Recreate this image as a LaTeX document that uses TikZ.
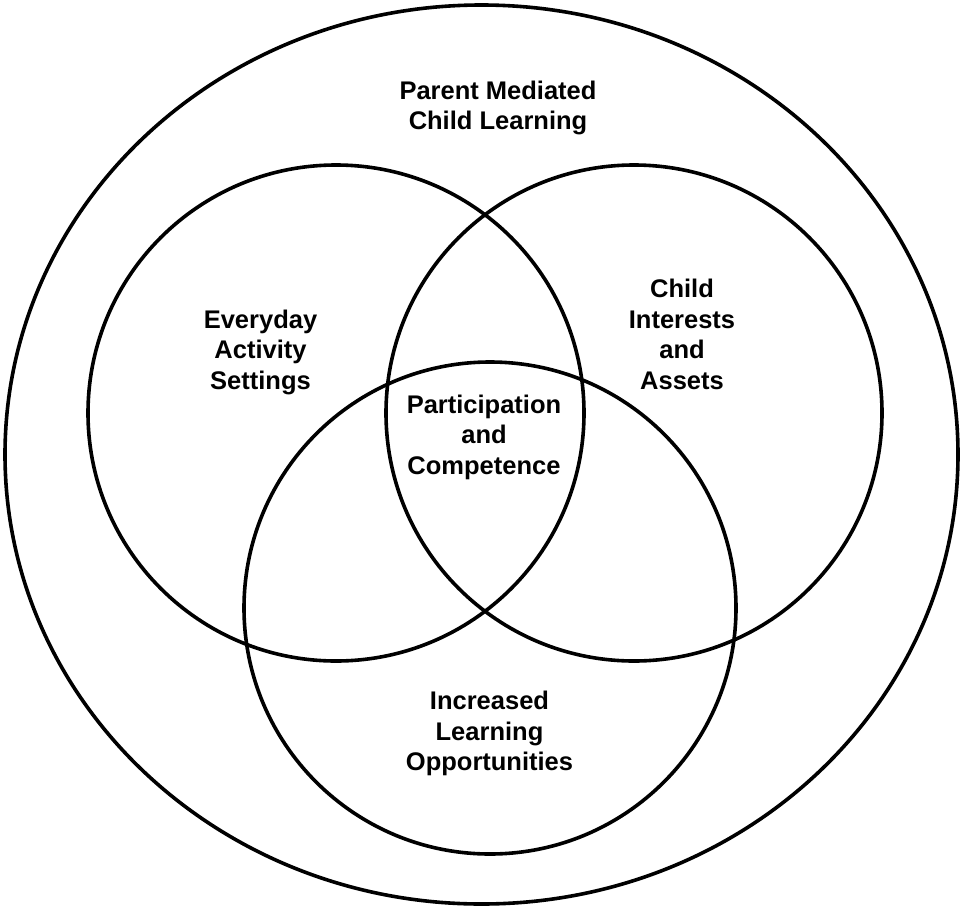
\documentclass[tikz,border=0pt]{standalone}
\usepackage{fontspec}
\setmainfont{Liberation Sans}
\usetikzlibrary{shapes.geometric}
\begin{document}
\begin{tikzpicture}[x=1pt,y=-1pt,
  ring/.style={circle,draw=black,line width=3.6pt,inner sep=0pt,minimum size=#1},
  lbl/.style={align=center,inner sep=0pt,font=\fontsize{25.5}{30.5}\selectfont\bfseries}]
\useasboundingbox[fill=white] (0,0) rectangle (964,908);
\node[ellipse,draw=black,line width=3.6pt,inner sep=0pt,minimum width=953pt,minimum height=899pt] (outer) at (481.5,454.5) {};
\node[ring=496pt] (left) at (336,413) {};
\node[ring=496pt] (right) at (634,413) {};
\node[ring=492pt] (bottom) at (490,608) {};
\node[lbl] (parent) at (498,108) {Parent Mediated\\Child Learning};
\node[lbl] (everyday) at (260.5,352.4) {Everyday\\Activity\\Settings};
\node[lbl] (child) at (682,334.5) {Child\\Interests\\and\\Assets};
\node[lbl] (partic) at (484,437) {Participation\\and\\Competence};
\node[lbl] (incr) at (489.5,733.4) {Increased\\Learning\\Opportunities};
\end{tikzpicture}
\end{document}
